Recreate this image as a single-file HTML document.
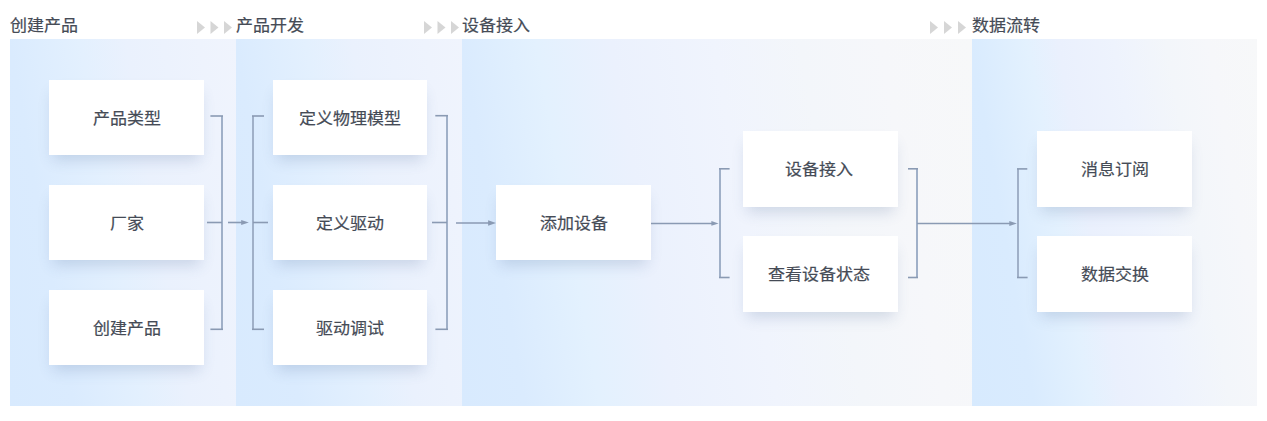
<!DOCTYPE html>
<html lang="zh-CN">
<head>
<meta charset="utf-8">
<style>
html,body{margin:0;padding:0;background:#fff;width:1267px;height:421px;overflow:hidden;}
body{position:relative;font-family:"Liberation Sans",sans-serif;color:#333;}
.hd{position:absolute;top:14px;font-size:17px;line-height:22px;white-space:nowrap;color:#333;}
.tri{position:absolute;top:21px;}
.pn{position:absolute;top:39px;height:367px;}
.p1{left:10px;width:226px;background:linear-gradient(80deg,#D8EAFE 0%,#DAEBFE 22%,#E3F0FE 46%,#EAF1FD 62%,#F0F4FD 100%);}
.p2{left:236px;width:226px;background:linear-gradient(80deg,#D8EAFE 0%,#DAEBFE 22%,#E3F0FE 46%,#EAF1FD 62%,#F0F4FD 100%);}
.p3{left:462px;width:510px;background:linear-gradient(80deg,#D8EAFE 0%,#DAEBFE 11%,#E3F1FE 24%,#EBF1FD 37%,#F0F4FD 55%,#F3F6FA 70%,#F6F7FA 84%,#F7F8F9 100%);}
.p4{left:972px;width:285px;background:linear-gradient(80deg,#D7EAFE 0%,#D9EBFE 18%,#E3F1FE 34%,#EAF0FD 43%,#EEF3FD 59%,#F3F6FA 74%,#F6F7FA 86%,#F7F8F9 100%);}
.cd{position:absolute;width:154px;height:75px;background:#fff;box-shadow:0 9px 14px -4px rgba(60,90,140,0.2);
  font-size:17px;line-height:75px;text-align:center;color:#333;}
svg.ln{position:absolute;left:0;top:0;}
.cd span,.hd span{display:inline-block;-webkit-text-stroke:0.2px #454b56;color:#454b56;transform:translateY(1px) scaleY(0.94);}
.cd span{transform:translateY(1.7px) scaleY(0.94);}
</style>
</head>
<body>
<div class="pn p1"></div>
<div class="pn p2"></div>
<div class="pn p3"></div>
<div class="pn p4"></div>

<div class="hd" style="left:10px"><span>创建产品</span></div>
<div class="hd" style="left:236px"><span>产品开发</span></div>
<div class="hd" style="left:462px"><span>设备接入</span></div>
<div class="hd" style="left:972px"><span>数据流转</span></div>

<svg class="tri" style="left:0;top:0" width="1267" height="40">
  <g fill="#D6D6D6">
    <path d="M197 21 L205 27.5 L197 34 Z"/>
    <path d="M210.5 21 L218.5 27.5 L210.5 34 Z"/>
    <path d="M224 21 L232 27.5 L224 34 Z"/>
    <path d="M424 21 L432 27.5 L424 34 Z"/>
    <path d="M437.5 21 L445.5 27.5 L437.5 34 Z"/>
    <path d="M451 21 L459 27.5 L451 34 Z"/>
    <path d="M930 21 L938 27.5 L930 34 Z"/>
    <path d="M944 21 L952 27.5 L944 34 Z"/>
    <path d="M958 21 L966 27.5 L958 34 Z"/>
  </g>
</svg>

<div class="cd" style="left:49px;top:80px;width:155px"><span>产品类型</span></div>
<div class="cd" style="left:49px;top:185px;width:155px"><span>厂家</span></div>
<div class="cd" style="left:49px;top:290px;width:155px"><span>创建产品</span></div>

<div class="cd" style="left:273px;top:80px"><span>定义物理模型</span></div>
<div class="cd" style="left:273px;top:185px"><span>定义驱动</span></div>
<div class="cd" style="left:273px;top:290px"><span>驱动调试</span></div>

<div class="cd" style="left:496px;top:185px;width:155px"><span>添加设备</span></div>

<div class="cd" style="left:743px;top:131px;width:155px;height:76px;line-height:76px"><span style="margin-left:-3px">设备接入</span></div>
<div class="cd" style="left:743px;top:236px;width:155px;height:76px;line-height:76px"><span style="margin-left:-3px">查看设备状态</span></div>

<div class="cd" style="left:1037px;top:131px;width:155px;height:76px;line-height:76px"><span>消息订阅</span></div>
<div class="cd" style="left:1037px;top:236px;width:155px;height:76px;line-height:76px"><span>数据交换</span></div>

<svg class="ln" width="1267" height="421">
  <g stroke="#A0B0C8" stroke-width="2" fill="none">
    <path d="M222 116 V329.3"/>
    <path d="M253 116 V329.3"/>
    <path d="M447 115.7 V329.3"/>
    <path d="M720 168.8 V277.5"/>
    <path d="M917 168.8 V277.5"/>
    <path d="M1018 168.9 V277.5"/>
  </g>
  <g stroke="#8A9AB3" stroke-width="1.6" fill="none">
    <path d="M210.4 116 H223"/>
    <path d="M210.4 329.3 H223"/>
    <path d="M207 222.5 H222"/>
    <path d="M228 222.5 H243"/>
    <path d="M252 116 H264"/>
    <path d="M252 329.3 H264"/>
    <path d="M253 222.5 H268"/>
    <path d="M435.3 115.7 H448"/>
    <path d="M435.4 329.3 H448"/>
    <path d="M432 222.5 H447"/>
    <path d="M456 223 H490"/>
    <path d="M651 223.5 H713"/>
    <path d="M719 168.8 H729.6"/>
    <path d="M719 277.5 H729.6"/>
    <path d="M908 168.8 H918"/>
    <path d="M908 277.5 H918"/>
    <path d="M917 223.5 H1011"/>
    <path d="M1017 168.9 H1027.3"/>
    <path d="M1017 277.5 H1027.6"/>
  </g>
  <g fill="#8A9AB3">
    <path d="M241.2 220 L248.8 222.5 L241.2 225 Z"/>
    <path d="M488.1 220.2 L496 223 L488.1 225.8 Z"/>
    <path d="M711.4 221 L718.6 223.4 L711.4 225.8 Z"/>
    <path d="M1009.3 221 L1016.9 223.5 L1009.3 226 Z"/>
  </g>
</svg>
</body>
</html>
